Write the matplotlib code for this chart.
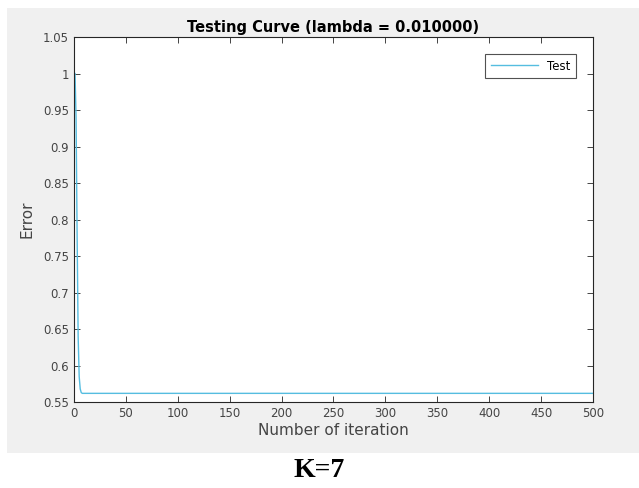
import matplotlib
matplotlib.use("Agg")
import matplotlib.pyplot as plt
from matplotlib.patches import Rectangle

# Test error per iteration (flat after the first few iterations)
iterations = [1, 2, 3, 4, 5, 6, 7, 8, 500]
test_error = [1.0, 0.94, 0.78, 0.64, 0.585, 0.568, 0.563, 0.562, 0.562]

x_ticks = [0, 50, 100, 150, 200, 250, 300, 350, 400, 450, 500]
y_ticks = [0.55, 0.6, 0.65, 0.7, 0.75, 0.8, 0.85, 0.9, 0.95, 1.0, 1.05]
y_labels = ["0.55", "0.6", "0.65", "0.7", "0.75", "0.8", "0.85", "0.9", "0.95", "1", "1.05"]

fig = plt.figure(figsize=(6.39, 4.88), dpi=100)
fig.patch.set_facecolor("white")

# MATLAB-like grey figure panel
fig.patches.append(Rectangle((0.011, 0.072), 0.989, 0.912, transform=fig.transFigure,
                             facecolor="#f0f0f0", edgecolor="none", zorder=-10))

ax = fig.add_axes([0.1158, 0.176, 0.8122, 0.748])
ax.set_zorder(5)
ax.set_facecolor("white")
ax.plot(iterations, test_error, color="#55bde0", lw=1.0, label="Test")

ax.set_xlim(0, 500)
ax.set_ylim(0.55, 1.05)
ax.set_xticks(x_ticks)
ax.set_yticks(y_ticks)
ax.set_yticklabels(y_labels)
ax.tick_params(direction="in", top=True, right=True, length=4, width=0.6,
               colors="#262626", labelcolor="#444444", labelsize=8.5)
for s in ax.spines.values():
    s.set_color("#262626")
    s.set_linewidth(0.8)

ax.set_title("Testing Curve (lambda = 0.010000)", fontsize=10.5, fontweight="bold", pad=4)
ax.set_xlabel("Number of iteration", fontsize=11, color="#444444", labelpad=2)
ax.set_ylabel("Error", fontsize=11, color="#444444", labelpad=6)

leg = ax.legend(loc="upper right", fontsize=8.5, frameon=True, fancybox=False,
                handlelength=4.0, borderpad=0.5, borderaxespad=1.4)
leg.get_frame().set_edgecolor("#262626")
leg.get_frame().set_linewidth(0.8)

fig.text(0.5, 0.035, "K=7", ha="center", va="center", fontsize=20,
         fontweight="bold", family="Liberation Serif")

fig.savefig("out.png", dpi=100)
